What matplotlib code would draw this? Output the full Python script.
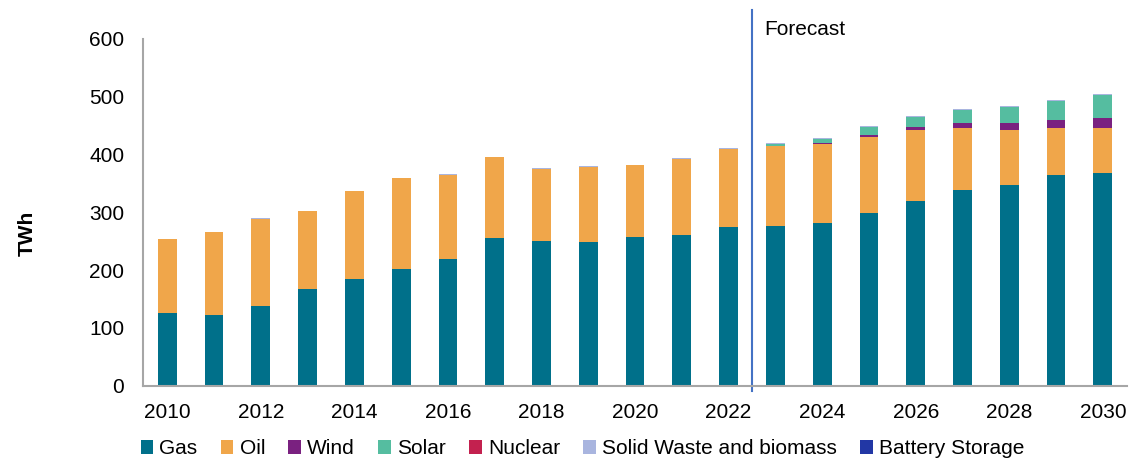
import numpy as np
import matplotlib
matplotlib.use('Agg')
import matplotlib.pyplot as plt

plt.rcParams['font.family'] = ['Liberation Sans', 'DejaVu Sans']

years = list(range(2010, 2031))
tick_years = [2010, 2012, 2014, 2016, 2018, 2020, 2022, 2024, 2026, 2028, 2030]

gas = [125, 123, 138, 167, 184, 202, 220, 255, 250, 248, 257, 260, 274,
       277, 282, 298, 319, 338, 348, 364, 368]
oil = [129, 143, 151, 135, 153, 157, 145, 140, 125, 131, 124, 133, 136,
       137, 136, 133, 124, 108, 95, 82, 78]
wind = [0]*13 + [1, 1.5, 3.5, 5, 8, 11, 13, 18]
solar = [0]*13 + [4, 7.5, 12.5, 17, 22.5, 28, 33, 39]
nuclear = [0]*21
waste = [0, 0, 1, 0.5, 0.5, 1, 1, 0.5, 1, 1, 1, 1, 1.5,
         1.5, 1.5, 1.5, 1.7, 1.7, 1.7, 1.7, 1.7]
battery = [0]*21

series = [('Gas', gas, '#00708A'),
          ('Oil', oil, '#F0A64A'),
          ('Wind', wind, '#7A2180'),
          ('Solar', solar, '#55BDA0'),
          ('Nuclear', nuclear, '#C3214F'),
          ('Solid Waste and biomass', waste, '#A9B5DF'),
          ('Battery Storage', battery, '#2237A5')]

fig = plt.figure(figsize=(11.3, 4.58), dpi=100)
ax = fig.add_axes([0.1265, 0.158, 0.871, 0.757])

x = np.arange(len(years))
bottom = np.zeros(len(years))
for name, vals, col in series:
    vals = np.array(vals, dtype=float)
    ax.bar(x, vals, width=0.4, bottom=bottom, color=col, label=name,
           edgecolor='none')
    bottom += vals

ax.set_xlim(-0.52, 20.52)
ax.set_ylim(0, 600)
ax.set_yticks(range(0, 601, 100))
ax.set_xticks([years.index(y) for y in tick_years])
ax.set_xticklabels([str(y) for y in tick_years])
ax.tick_params(axis='both', length=0, labelsize=15)
ax.tick_params(axis='x', pad=12.5)
ax.tick_params(axis='y', pad=13.5)
for s in ['top', 'right']:
    ax.spines[s].set_visible(False)
for s in ['left', 'bottom']:
    ax.spines[s].set_color('#A6A6A6')
    ax.spines[s].set_linewidth(1.5)

ax.set_ylabel('TWh', fontsize=15, fontweight='bold', labelpad=0)
ax.yaxis.set_label_coords(-0.108, 0.44)

# forecast divider
ax.axvline(years.index(2022) + 0.5, ymin=-0.015, ymax=1.083, color='#4472C4',
           linewidth=1.5, clip_on=False)
ax.text(years.index(2022) + 0.77, 617, 'Forecast', fontsize=15,
        va='center', ha='left')

fig.legend(loc='center left', bbox_to_anchor=(0.117, 0.02), ncol=7,
           frameon=False, fontsize=15, handlelength=0.6, handleheight=0.6,
           handletextpad=0.3, columnspacing=1.12, borderaxespad=0)

fig.savefig('out.png', dpi=100)
